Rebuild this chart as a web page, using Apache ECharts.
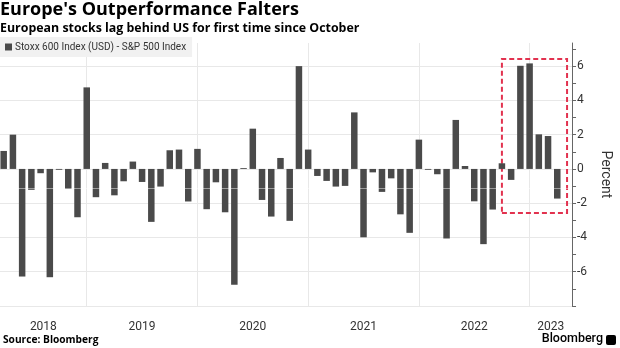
<!DOCTYPE html>
<html>
<head>
<meta charset="utf-8">
<script src="https://cdn.jsdelivr.net/npm/echarts@6/dist/echarts.min.js"></script>
<style>
  html, body { margin: 0; padding: 0; background: #fff; }
  #chart { width: 620px; height: 348px; }
</style>
</head>
<body>
<div id="chart"></div>
<script>
// Month of each bar (end-of-month observations), values in percent
const months = [
  '2018-03','2018-04','2018-05','2018-06','2018-07','2018-08','2018-09','2018-10','2018-11','2018-12',
  '2019-01','2019-02','2019-03','2019-04','2019-05','2019-06','2019-07','2019-08','2019-09','2019-10','2019-11','2019-12',
  '2020-01','2020-02','2020-03','2020-04','2020-05','2020-06','2020-07','2020-08','2020-09','2020-10','2020-11','2020-12',
  '2021-01','2021-02','2021-03','2021-04','2021-05','2021-06','2021-07','2021-08','2021-09','2021-10','2021-11','2021-12',
  '2022-01','2022-02','2022-03','2022-04','2022-05','2022-06','2022-07','2022-08','2022-09','2022-10','2022-11','2022-12',
  '2023-01','2023-02','2023-03'
];
const spread = [
  1.05, 2.0, -6.28, -1.22, -0.25, -6.32, -0.05, -1.17, -2.82, 4.76,
  -1.65, 0.35, -1.54, -0.72, 0.43, -0.76, -3.09, -1.03, 1.09, 1.13, -1.9, 1.17,
  -2.35, -0.78, -2.53, -6.76, 0.05, 2.35, -1.81, -2.78, 0.64, -3.03, 6.0, 1.13,
  -0.41, -0.70, -1.03, -0.99, 3.3, -3.99, -0.2, -1.34, -0.55, -2.65, -3.73, 1.71,
  -0.05, -0.31, -4.06, 2.86, 0.17, -1.89, -4.39, -2.37, 0.33, -0.64, 6.02, 6.16,
  2.02, 1.92, -1.73
];
const yearLabels = ['2018','2019','2020','2021','2022','2023'];
const yTickLabels = [-6, -4, -2, 0, 2, 4, 6];
const seriesName = 'Stoxx 600 Index (USD) - S&P 500 Index';

// x position in months since Jan 2018 (end of month)
function monthPos(m) {
  const [y, mo] = m.split('-').map(Number);
  return (y - 2018) * 12 + mo;
}
const barData = months.map((m, i) => [monthPos(m), spread[i]]);

const X_MIN = 2.6, X_MAX = 64.6;
const Y_MIN = -8, Y_MAX = 7.35;
const yearBoundaries = yearLabels.slice(1).map(y => (Number(y) - 2018) * 12);
const yearCenters = yearLabels.map(y => {
  const s = Math.max(X_MIN, (Number(y) - 2018) * 12);
  const e = Math.min(X_MAX, (Number(y) - 2017) * 12);
  return (s + e) / 2;
});
const minorTicks = [];
for (let v = Y_MIN; v <= Math.floor(Y_MAX); v++) minorTicks.push(v);
const gridValues = [];
for (let v = Y_MIN; v <= 6; v += 2) gridValues.push(v);

const FONT = 'Roboto';
const TFONT = 'Open Sans';
const chart = echarts.init(document.getElementById('chart'), null, { renderer: 'canvas' });
chart.setOption({
  animation: false,
  backgroundColor: '#ffffff',
  textStyle: { fontFamily: FONT },
  title: [
    { text: "Europe's Outperformance Falters", left: 0, top: 1, padding: 0,
      textStyle: { fontFamily: TFONT, fontSize: 18, fontWeight: 'bold', color: '#000' } },
    { text: 'European stocks lag behind US for first time since October', left: 0, top: 22, padding: 0,
      textStyle: { fontFamily: TFONT, fontSize: 12.4, fontWeight: 'bold', color: '#000' } }
  ],
  legend: {
    left: 0, top: 37, padding: [5, 6, 5, 5],
    backgroundColor: '#f1f1f1',
    icon: 'rect', itemWidth: 7, itemHeight: 7, itemGap: 3,
    textStyle: { fontFamily: FONT, fontSize: 10, color: '#333', padding: [0, 0, 0, -2] },
    data: [seriesName]
  },
  grid: { left: 0, right: 41, top: 43, bottom: 42, containLabel: false },
  xAxis: {
    type: 'value', min: X_MIN, max: X_MAX,
    axisLine: { show: false },
    axisTick: { show: false, customValues: yearBoundaries },
    splitLine: { show: true, lineStyle: { color: '#e8e8e8', width: 1 } },
    axisLabel: {
      customValues: yearCenters, margin: 15,
      fontFamily: FONT, fontSize: 12, color: '#333',
      formatter: v => String(2018 + Math.floor(v / 12))
    }
  },
  yAxis: [
    {
      type: 'value', position: 'right', min: Y_MIN, max: Y_MAX,
      name: 'Percent', nameLocation: 'middle', nameRotate: -90, nameGap: 21,
      nameTextStyle: { fontFamily: FONT, fontSize: 14, color: '#333' },
      axisLine: { show: true, lineStyle: { color: '#666', width: 1 } },
      axisTick: { show: true, inside: false, length: 4, customValues: minorTicks, lineStyle: { color: '#666' } },
      axisLabel: { customValues: yTickLabels, margin: 5, fontFamily: FONT, fontSize: 12, color: '#333' },
      splitLine: { show: false }
    },
    {
      type: 'value', position: 'right', min: Y_MIN, max: Y_MAX,
      axisLine: { show: false },
      axisTick: { show: false, customValues: gridValues },
      axisLabel: { show: false },
      splitLine: { show: true, lineStyle: { color: '#e8e8e8', width: 1 } }
    }
  ],
  series: [{
    name: seriesName,
    type: 'bar',
    yAxisIndex: 0,
    barWidth: 6.5,
    itemStyle: { color: '#4a4a4a' },
    data: barData,
    markLine: {
      silent: true, symbol: 'none', label: { show: false },
      lineStyle: { color: 'rgba(255,255,255,0.45)', type: 'solid', width: 1 },
      data: [{ yAxis: -1.1 }]
    },
    markArea: {
      silent: true,
      itemStyle: { color: 'rgba(0,0,0,0)', borderColor: '#e2324f', borderWidth: 2, borderType: [5, 3] },
      data: [[{ xAxis: 57.0, yAxis: 6.42 }, { xAxis: 64.06, yAxis: -2.57 }]]
    }
  }],
  graphic: [
    { type: 'text', left: 3, top: 335,
      style: { text: 'Source: Bloomberg', fontFamily: TFONT, fontSize: 10.2, fontWeight: 'bold', fill: '#000' } },
    { type: 'text', right: 17, top: 332,
      style: { text: 'Bloomberg', fontFamily: FONT, fontSize: 12.5, fontWeight: 500, fill: '#000' } },
    { type: 'rect', right: 4, top: 335, shape: { width: 10, height: 10, r: 2 }, style: { fill: '#000' } }
  ]
});
</script>
</body>
</html>
